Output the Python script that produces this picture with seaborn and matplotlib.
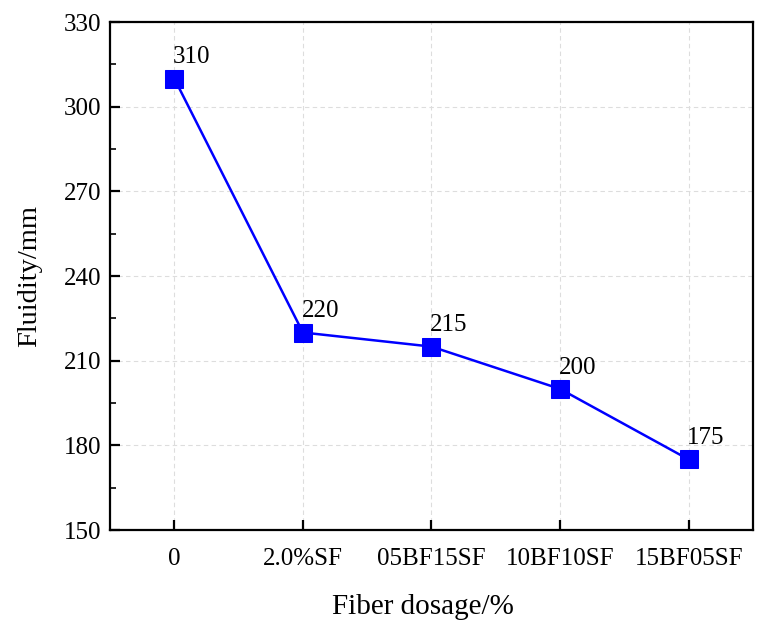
import matplotlib
matplotlib.use("Agg")
import matplotlib.pyplot as plt
import seaborn as sns
import pandas as pd
from matplotlib.ticker import MultipleLocator

# Data
dosage = ["0", "2.0%SF", "05BF15SF", "10BF10SF", "15BF05SF"]
fluidity = [310, 220, 215, 200, 175]

sns.set_style("ticks")
plt.rcParams['font.family'] = ['Liberation Serif', 'DejaVu Serif']
plt.rcParams['mathtext.fontset'] = 'stix'

df = pd.DataFrame({"dosage": dosage, "fluidity": fluidity})

fig = plt.figure(figsize=(7.65, 6.31), dpi=100)
ax = fig.add_axes([0.1438, 0.160, 0.8405, 0.805])

sns.lineplot(data=df, x="dosage", y="fluidity", ax=ax, sort=False,
             color="#0000FF", linewidth=1.8, marker="s", markersize=13.5,
             markeredgecolor="#0000FF", markerfacecolor="#0000FF")

for i, v in enumerate(fluidity):
    ax.annotate(str(v), (i, v), xytext=(-1, 11), textcoords="offset points",
                ha="left", va="baseline", fontsize=18, color="black")

ax.set_xlim(-0.5, len(dosage) - 0.5)
ax.set_ylim(150, 330)
ax.yaxis.set_major_locator(MultipleLocator(30))
ax.yaxis.set_minor_locator(MultipleLocator(15))

ax.grid(True, which="major", linestyle=(0, (4, 3)), color="#dddddd", linewidth=0.8)
ax.set_axisbelow(True)

for s in ax.spines.values():
    s.set_visible(True)
    s.set_linewidth(1.6)
    s.set_color("black")

ax.tick_params(axis="both", which="major", direction="in", length=7, width=1.6,
               labelsize=18, colors="black")
ax.tick_params(axis="x", which="major", pad=13)
ax.tick_params(axis="y", which="major", pad=6)
ax.tick_params(axis="y", which="minor", direction="in", length=4, width=1.4)

ax.set_xlabel("Fiber dosage/%", fontsize=21, labelpad=17, color="black", x=0.486)
ax.set_ylabel("Fluidity/mm", fontsize=20.5, labelpad=16, color="black")

fig.savefig("out.png", dpi=100)
